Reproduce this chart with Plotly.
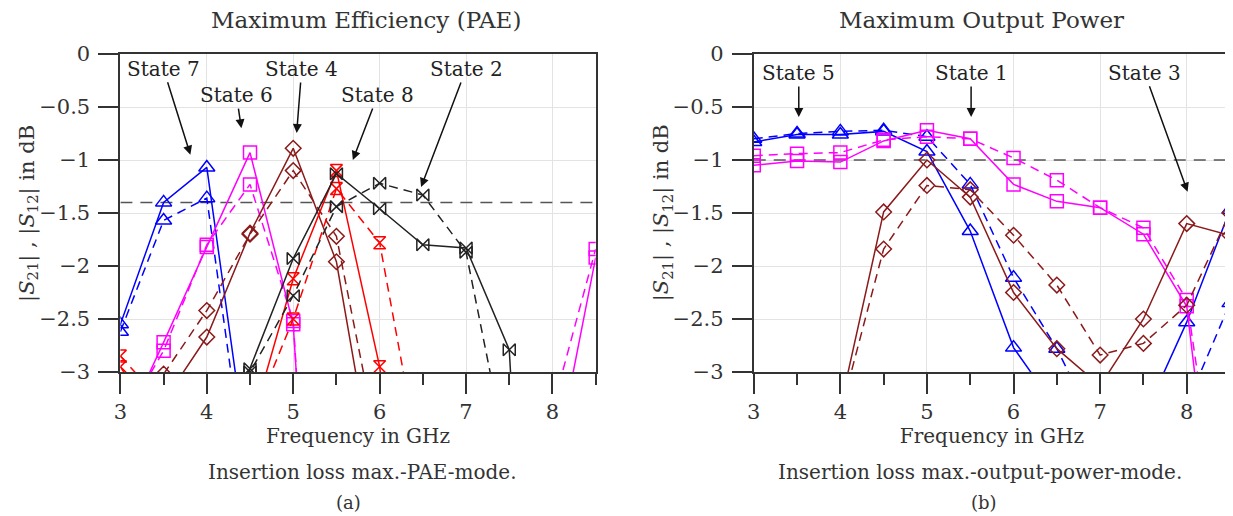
import plotly.graph_objects as go

# ---------------- data ----------------
freq = [3.0, 3.5, 4.0, 4.5, 5.0, 5.5, 6.0, 6.5, 7.0, 7.5, 8.0, 8.5]
x_ticks = [3, 4, 5, 6, 7, 8]
y_ticks = [0, -0.5, -1, -1.5, -2, -2.5, -3]
y_tick_labels = ["0", "\u22120.5", "\u22121", "\u22121.5", "\u22122", "\u22122.5", "\u22123"]

# (a) maximum efficiency (PAE) mode: S21 (solid) and S12 (dashed)
pae_state7_s21 = [-2.55, -1.40, -1.07, -4.0, None, None, None, None, None, None, None, None]
pae_state7_s12 = [-2.62, -1.57, -1.36, -4.3, None, None, None, None, None, None, None, None]
pae_state6_s21 = [-3.6, -2.72, -1.82, -0.93, -2.55, -9.0, -9.0, -9.0, -9.0, -9.0, -4.0, -1.92]
pae_state6_s12 = [-3.5, -2.80, -1.80, -1.23, -2.52, -9.0, -9.0, -9.0, -9.0, -9.0, -3.35, -1.84]
pae_state4_s21 = [None, -3.28, -2.67, -1.69, -0.89, -1.96, -4.3, None, None, None, None, None]
pae_state4_s12 = [None, -3.02, -2.42, -1.70, -1.10, -1.72, -3.77, None, None, None, None, None]
pae_state8_s21 = [-2.95, -3.6, -4.5, -3.54, -2.12, -1.10, -2.95, -6.0, None, None, None, None]
pae_state8_s12 = [-2.85, -3.3, -4.5, -3.50, -2.50, -1.27, -1.78, -4.0, None, None, None, None]
pae_state2_s21 = [None, None, -4.0, -2.97, -1.93, -1.13, -1.46, -1.80, -1.83, -2.79, -10.0, None]
pae_state2_s12 = [None, None, -4.0, -3.00, -2.28, -1.44, -1.22, -1.33, -1.87, -3.9, None, None]
pae_limit = -1.4

# (b) maximum output power mode
pout_state5_s21 = [-0.83, -0.76, -0.76, -0.73, -0.92, -1.67, -2.77, -3.35, -4.0, -3.43, -2.53, -1.47]
pout_state5_s12 = [-0.80, -0.75, -0.73, -0.72, -0.78, -1.23, -2.11, -2.78, -3.6, -4.0, -3.31, -2.35]
pout_state1_s21 = [-1.05, -1.01, -1.02, -0.82, -0.72, -0.80, -1.23, -1.39, -1.45, -1.70, -2.38, -5.8]
pout_state1_s12 = [-0.96, -0.94, -0.93, -0.81, -0.78, -0.80, -0.98, -1.19, -1.45, -1.64, -2.32, -5.1]
pout_state3_s21 = [None, None, -3.33, -1.49, -1.00, -1.35, -2.25, -2.78, -3.13, -2.50, -1.60, -1.71]
pout_state3_s12 = [None, None, -3.39, -1.84, -1.24, -1.28, -1.71, -2.18, -2.84, -2.73, -2.37, -1.50]
pout_limit = -1.0

# ---------------- layout helpers ----------------
# the page body has an 8px margin, so the figure is drawn 8px right/down
OFF = 8
W, H = 1233 - OFF, 516 - OFF
PLOT_TOP, PLOT_BOTTOM = 54, 372  # page pixels


def px(xp):
    return (xp - OFF) / W


def py(yp):
    return (PLOT_BOTTOM - yp) / (PLOT_BOTTOM - PLOT_TOP)


FONT = "DejaVu Serif"
TXT = "#333333"
BLUE = "#0000ff"
MAGENTA = "#ff00ff"
BROWN = "#8b1a1a"
RED = "#ff0000"
BLACK = "#222222"

fig = go.Figure()


def add_pair(name, s21, s12, color, symbol, size, xa, ya):
    fig.add_trace(go.Scatter(
        x=freq, y=s21, mode="lines+markers", name=name + " |S21|",
        line=dict(color=color, width=1.5),
        marker=dict(symbol=symbol, size=size, color=color, line=dict(width=1.5, color=color)),
        xaxis=xa, yaxis=ya, showlegend=False))
    fig.add_trace(go.Scatter(
        x=freq, y=s12, mode="lines+markers", name=name + " |S12|",
        line=dict(color=color, width=1.5, dash="9px,6px"),
        marker=dict(symbol=symbol, size=size, color=color, line=dict(width=1.5, color=color)),
        xaxis=xa, yaxis=ya, showlegend=False))


# reference limit lines
fig.add_trace(go.Scatter(x=[3, 8.5], y=[pae_limit, pae_limit], mode="lines",
                         line=dict(color="#555555", width=1.5, dash="12px,8px"),
                         xaxis="x", yaxis="y", showlegend=False, hoverinfo="skip"))
fig.add_trace(go.Scatter(x=[3, 8.5], y=[pout_limit, pout_limit], mode="lines",
                         line=dict(color="#555555", width=1.5, dash="12px,8px"),
                         xaxis="x2", yaxis="y2", showlegend=False, hoverinfo="skip"))

add_pair("State 7", pae_state7_s21, pae_state7_s12, BLUE, "triangle-up-open", 14, "x", "y")
add_pair("State 6", pae_state6_s21, pae_state6_s12, MAGENTA, "square-open", 13, "x", "y")
add_pair("State 4", pae_state4_s21, pae_state4_s12, BROWN, "diamond-open", 12, "x", "y")
add_pair("State 8", pae_state8_s21, pae_state8_s12, RED, "hourglass-open", 12, "x", "y")
add_pair("State 2", pae_state2_s21, pae_state2_s12, BLACK, "bowtie-open", 12, "x", "y")

add_pair("State 5", pout_state5_s21, pout_state5_s12, BLUE, "triangle-up-open", 14, "x2", "y2")
add_pair("State 1", pout_state1_s21, pout_state1_s12, MAGENTA, "square-open", 13, "x2", "y2")
add_pair("State 3", pout_state3_s21, pout_state3_s12, BROWN, "diamond-open", 12, "x2", "y2")

axis_common = dict(
    showline=True, linecolor="#333333", linewidth=2, mirror=True,
    showgrid=True, gridcolor="#e3e3e3", gridwidth=1, zeroline=False,
    ticks="outside", ticklen=20, tickwidth=2, tickcolor="#333333",
    tickfont=dict(family=FONT, size=21, color=TXT),
)

xaxis_common = dict(axis_common, range=[3, 8.5], tickvals=x_ticks,
                    minor=dict(dtick=0.5, tick0=3, ticks="outside", ticklen=11,
                               tickwidth=2, tickcolor="#333333", showgrid=False),
                    title=dict(text="Frequency in GHz", font=dict(family=FONT, size=20, color=TXT),
                               standoff=2))
yaxis_common = dict(axis_common, range=[-3, 0], tickvals=y_ticks, ticktext=y_tick_labels,
                    ticklabelstandoff=4)

fig.update_layout(
    width=W, height=H,
    margin=dict(l=0, r=0, t=PLOT_TOP - OFF, b=H - (PLOT_BOTTOM - OFF)),
    paper_bgcolor="white", plot_bgcolor="white",
    xaxis=dict(xaxis_common, domain=[px(114), px(592)], anchor="y"),
    yaxis=dict(yaxis_common, domain=[0, 1], anchor="x"),
    xaxis2=dict(xaxis_common, domain=[px(751), px(1230)], anchor="y2"),
    yaxis2=dict(yaxis_common, domain=[0, 1], anchor="x2"),
)

ylabel = "|<i>S</i><sub>21</sub>| , |<i>S</i><sub>12</sub>| in dB"
txt_font = dict(family=FONT, size=20, color=TXT)
ann = []
# y-axis titles
for xp in (21, 659):
    ann.append(dict(text=ylabel, textangle=-90, x=px(xp), y=0.5, xref="paper", yref="paper",
                    showarrow=False, font=dict(family=FONT, size=21, color=TXT),
                    xanchor="center", yanchor="middle"))
# panel titles
ann.append(dict(text="Maximum Efficiency (PAE)", x=px(361), y=py(20), xref="paper", yref="paper",
                xanchor="center", yanchor="middle", showarrow=False,
                font=dict(family=FONT, size=23, color=TXT)))
ann.append(dict(text="Maximum Output Power", x=px(980), y=py(20), xref="paper", yref="paper",
                xanchor="center", yanchor="middle", showarrow=False,
                font=dict(family=FONT, size=23, color=TXT)))
# captions
ann.append(dict(text="Insertion loss max.-PAE-mode.", x=px(357), y=py(472), xref="paper",
                yref="paper", xanchor="center", yanchor="middle", showarrow=False, font=txt_font))
ann.append(dict(text="Insertion loss max.-output-power-mode.", x=px(979), y=py(472),
                xref="paper", yref="paper", xanchor="center", yanchor="middle", showarrow=False,
                font=txt_font))
ann.append(dict(text="(a)", x=px(343), y=py(502), xref="paper", yref="paper",
                xanchor="center", yanchor="middle", showarrow=False,
                font=dict(family=FONT, size=18, color=TXT)))
ann.append(dict(text="(b)", x=px(983), y=py(502), xref="paper", yref="paper",
                xanchor="center", yanchor="middle", showarrow=False,
                font=dict(family=FONT, size=18, color=TXT)))

# state labels: (text, arrow head x, head y, text offset ax, ay in px, axes)
labels = [
    ("State 7", 3.81, -0.95, -27, -86, "x", "y"),
    ("State 6", 4.40, -0.70, -5, -33, "x", "y"),
    ("State 4", 5.04, -0.745, 5, -64, "x", "y"),
    ("State 8", 5.69, -1.00, 25, -65, "x", "y"),
    ("State 2", 6.48, -1.255, 45, -118, "x", "y"),
    ("State 5", 3.52, -0.594, 0, -44, "x2", "y2"),
    ("State 1", 5.51, -0.594, 0, -44, "x2", "y2"),
    ("State 3", 8.01, -1.30, -43, -119, "x2", "y2"),
]
for t, hx, hy, ax, ay, xr, yr in labels:
    ann.append(dict(text=t, x=hx, y=hy, xref=xr, yref=yr, showarrow=True, ax=ax, ay=ay,
                    arrowhead=2, arrowsize=1.2, arrowwidth=1.5, arrowcolor="#111111",
                    standoff=0, font=dict(family=FONT, size=20, color="#222222")))

fig.update_layout(annotations=ann)
fig.write_html("out.html")
